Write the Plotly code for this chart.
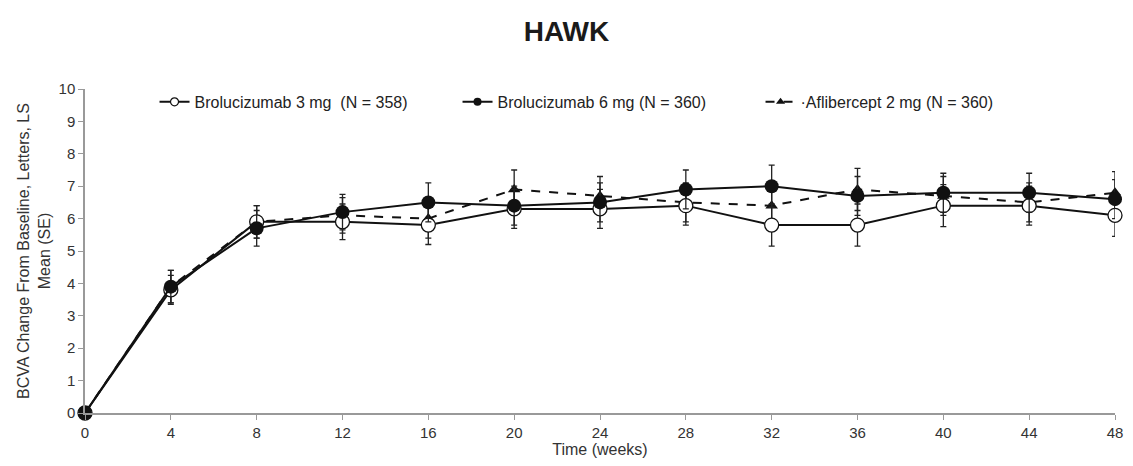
import plotly.graph_objects as go

weeks = [0, 4, 8, 12, 16, 20, 24, 28, 32, 36, 40, 44, 48]

bro3_mean = [0, 3.8, 5.9, 5.9, 5.8, 6.3, 6.3, 6.4, 5.8, 5.8, 6.4, 6.4, 6.1]
bro3_se = [0, 0.45, 0.5, 0.55, 0.6, 0.6, 0.6, 0.6, 0.65, 0.65, 0.65, 0.6, 0.65]

bro6_mean = [0, 3.9, 5.7, 6.2, 6.5, 6.4, 6.5, 6.9, 7.0, 6.7, 6.8, 6.8, 6.6]
bro6_se = [0, 0.5, 0.55, 0.55, 0.6, 0.6, 0.6, 0.6, 0.65, 0.6, 0.6, 0.6, 0.6]

afl_mean = [0, 3.9, 5.9, 6.1, 6.0, 6.9, 6.7, 6.5, 6.4, 6.9, 6.7, 6.5, 6.8]
afl_se = [0, 0.5, 0.5, 0.55, 0.6, 0.6, 0.6, 0.6, 0.6, 0.65, 0.6, 0.6, 0.65]

labels = ["Brolucizumab 3 mg  (N = 358)", "Brolucizumab 6 mg (N = 360)", "\u00b7Aflibercept 2 mg (N = 360)"]

x_ticks = weeks
y_ticks = list(range(0, 11))

INK = "#111"
fig = go.Figure()


def err(se):
    return dict(type="data", array=se, visible=True, color="#222", thickness=1.3, width=3)


# data traces (drawn: aflibercept first, then 3 mg, then 6 mg on top)
fig.add_trace(go.Scatter(
    x=weeks, y=afl_mean, name=labels[2], mode="lines+markers", showlegend=False,
    line=dict(color=INK, width=2, dash="dash"),
    marker=dict(symbol="triangle-up", size=11, color=INK),
    error_y=err(afl_se), cliponaxis=False))

fig.add_trace(go.Scatter(
    x=weeks, y=bro3_mean, name=labels[0], mode="lines+markers", showlegend=False,
    line=dict(color=INK, width=2),
    marker=dict(symbol="circle", size=14, color="white", line=dict(color=INK, width=1.3)),
    error_y=err(bro3_se), cliponaxis=False))

fig.add_trace(go.Scatter(
    x=weeks, y=bro6_mean, name=labels[1], mode="lines+markers", showlegend=False,
    line=dict(color=INK, width=2),
    marker=dict(symbol="circle", size=14, color=INK),
    error_y=err(bro6_se), cliponaxis=False))

# legend entries (small legend symbols like the reference)
fig.add_trace(go.Scatter(
    x=[None], y=[None], name=labels[0], mode="lines+markers",
    line=dict(color=INK, width=2),
    marker=dict(symbol="circle", size=8, color="white", line=dict(color=INK, width=1.2))))
fig.add_trace(go.Scatter(
    x=[None], y=[None], name=labels[1], mode="lines+markers",
    line=dict(color=INK, width=2),
    marker=dict(symbol="circle", size=8, color=INK)))
fig.add_trace(go.Scatter(
    x=[None], y=[None], name=labels[2], mode="lines+markers",
    line=dict(color=INK, width=2, dash="dash"),
    marker=dict(symbol="triangle-up", size=8, color=INK)))

fig.update_layout(
    width=1133, height=466,
    margin=dict(l=85, r=10, t=89, b=53),
    paper_bgcolor="white", plot_bgcolor="white",
    font=dict(family="Liberation Sans, Arial, sans-serif", size=16, color="#333"),
    title=dict(text="<b>HAWK</b>", x=0.5, xanchor="center", y=0.932, yanchor="middle",
               font=dict(size=28, color="#1a1a1a")),
    showlegend=True,
    legend=dict(orientation="h", x=0.0675, y=0.96, xanchor="left", yanchor="middle",
                font=dict(size=16, color="#222"), bgcolor="rgba(0,0,0,0)",
                entrywidth=258, entrywidthmode="pixels", traceorder="normal"),
    xaxis=dict(range=[0, 48], tickvals=x_ticks, ticks="outside", ticklen=5,
               tickcolor="#999", showline=True, linecolor="#999", linewidth=1.5,
               showgrid=False, zeroline=False, tickfont=dict(size=15, color="#333"),
               title=dict(text="Time (weeks)", standoff=2, font=dict(size=16, color="#333"))),
    yaxis=dict(range=[0, 10], tickvals=y_ticks, ticks="outside", ticklen=5,
               tickcolor="#999", showline=True, linecolor="#999", linewidth=1.5,
               showgrid=False, zeroline=False, tickfont=dict(size=15, color="#333"),
               title=dict(text="BCVA Change From Baseline, Letters, LS<br>Mean (SE)",
                          standoff=4, font=dict(size=16, color="#333"))),
)

fig.write_html("out.html", config={"displayModeBar": False},
               post_script="document.body.style.margin='0px';")
